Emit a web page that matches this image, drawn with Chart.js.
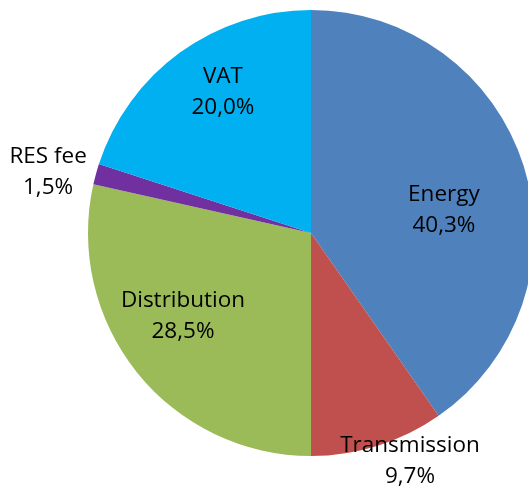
<!DOCTYPE html>
<html>
<head>
<meta charset="utf-8">
<script src="https://cdn.jsdelivr.net/npm/chart.js@4"></script>
<style>
  html, body { margin: 0; padding: 0; background: #fff; overflow: hidden; }
  #wrap { width: 540px; height: 490px; position: relative; }
</style>
</head>
<body>
<div id="wrap"><canvas id="chartPie"></canvas></div>
<script>
// Electricity bill breakdown
const categories = ["Energy", "Transmission", "Distribution", "RES fee", "VAT"];
const shares = [40.3, 9.7, 28.5, 1.5, 20.0];
const colors = ["#4F81BD", "#C0504D", "#9BBB59", "#7030A0", "#00B0F0"];

// label anchor, relative to pie centre, in units of the radius
const labelOffsets = [
  [0.596, -0.101],
  [0.444, 1.025],
  [-0.574, 0.374],
  [-1.179, -0.271],
  [-0.395, -0.630],
];

const fmt = (v) => v.toFixed(1).replace(".", ",") + "%";

// draws the two-line category / percent labels
const pieLabels = {
  id: "pieLabels",
  afterDatasetsDraw(chart) {
    const ctx = chart.ctx;
    const arcs = chart.getDatasetMeta(0).data;
    ctx.save();
    ctx.font = "22.5px 'Open Sans', sans-serif";
    ctx.fillStyle = "#000";
    ctx.textAlign = "center";
    ctx.textBaseline = "middle";
    arcs.forEach((arc, i) => {
      const r = arc.outerRadius;
      const x = arc.x + labelOffsets[i][0] * r;
      const y = arc.y + labelOffsets[i][1] * r;
      ctx.fillText(categories[i], x, y - 15.5);
      ctx.fillText(fmt(shares[i]), x, y + 15.5);
    });
    ctx.restore();
  },
};

new Chart(document.getElementById("chartPie"), {
  type: "pie",
  data: {
    labels: categories,
    datasets: [
      {
        data: shares,
        backgroundColor: colors,
        borderWidth: 0,
      },
    ],
  },
  options: {
    responsive: true,
    maintainAspectRatio: false,
    animation: false,
    layout: { padding: { left: 88, right: 6, top: 10, bottom: 34 } },
    plugins: {
      legend: { display: false },
      tooltip: { enabled: false },
    },
  },
  plugins: [pieLabels],
});
</script>
</body>
</html>
